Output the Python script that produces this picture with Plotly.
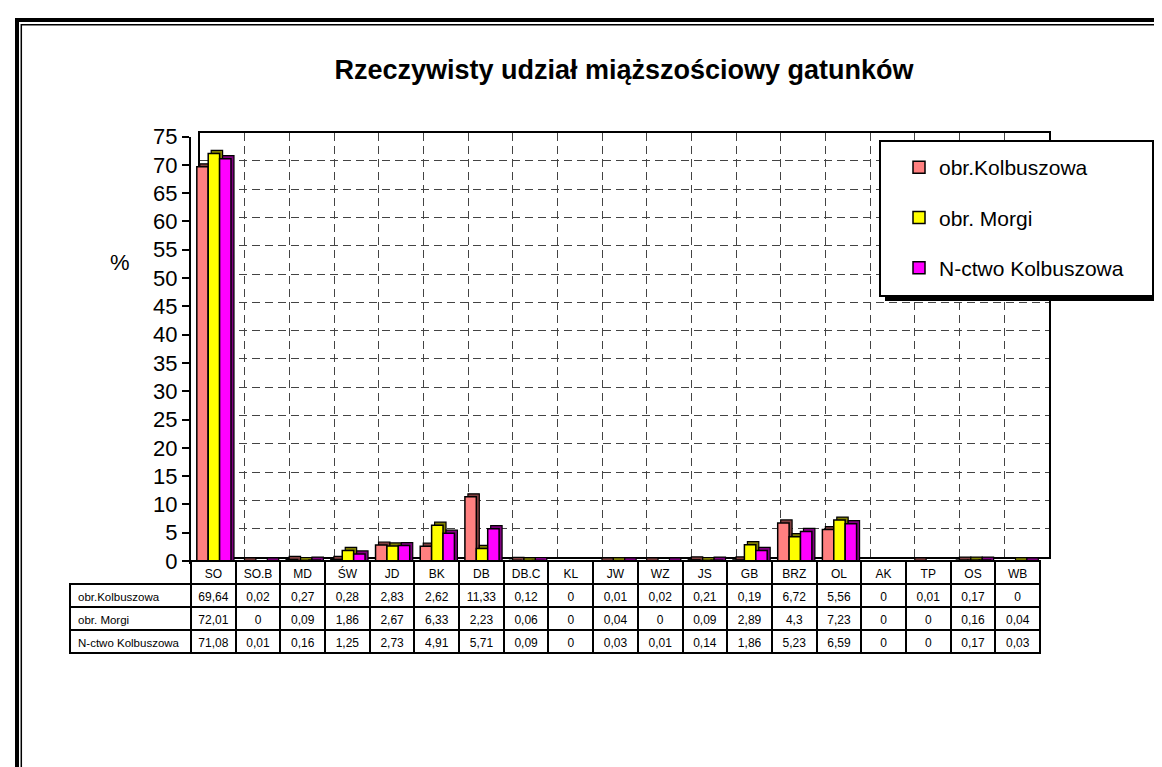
import plotly.graph_objects as go

W, H = 1162, 767


def fx(p):
    return p / W


def fy(p):
    return 1 - p / H


categories = ["SO", "SO.B", "MD", "ŚW", "JD", "BK", "DB", "DB.C", "KL", "JW",
              "WZ", "JS", "GB", "BRZ", "OL", "AK", "TP", "OS", "WB"]
kolbuszowa = [69.64, 0.02, 0.27, 0.28, 2.83, 2.62, 11.33, 0.12, 0, 0.01,
              0.02, 0.21, 0.19, 6.72, 5.56, 0, 0.01, 0.17, 0]
morgi = [72.01, 0, 0.09, 1.86, 2.67, 6.33, 2.23, 0.06, 0, 0.04,
         0, 0.09, 2.89, 4.3, 7.23, 0, 0, 0.16, 0.04]
nadlesnictwo = [71.08, 0.01, 0.16, 1.25, 2.73, 4.91, 5.71, 0.09, 0, 0.03,
                0.01, 0.14, 1.86, 5.23, 6.59, 0, 0, 0.17, 0.03]
series_names = ["obr.Kolbuszowa", "obr. Morgi", "N-ctwo Kolbuszowa"]
y_ticks = list(range(0, 80, 5))

FONT = "Liberation Sans, Arial, sans-serif"

# front face colour, darker side colour, bar left offset (category units)
styles = [
    ("#FF8080", "#804040", -0.37),
    ("#FFFF00", "#808000", -0.115),
    ("#FF00FF", "#800080", 0.14),
]
bar_w = 0.255
dx = 3 / 44.7        # 3d depth of a bar, x units
dy = 3 * 75 / 424.5  # 3d depth of a bar, y units


def fmt(v):
    return f"{v:g}".replace(".", ",")


x_idx = list(range(len(categories)))
n = len(categories)
fig = go.Figure()

# invisible trace so the back wall (x/y) gets drawn
fig.add_trace(go.Scatter(x=[0], y=[0], mode="markers", marker=dict(opacity=0),
                         showlegend=False, hoverinfo="skip", xaxis="x", yaxis="y"))

for name, vals, (col, dark, off) in zip(series_names, [kolbuszowa, morgi, nadlesnictwo], styles):
    # side/top face drawn behind the front face
    fig.add_trace(go.Bar(
        x=x_idx, y=[v + dy if v > 0 else 0 for v in vals],
        offset=off + dx, width=bar_w,
        marker=dict(color=dark, line=dict(color="black", width=1.2)),
        xaxis="x2", yaxis="y2", showlegend=False, hoverinfo="skip",
    ))
    fig.add_trace(go.Bar(
        x=x_idx, y=vals, name=name, legendgroup=name,
        offset=off, width=bar_w,
        marker=dict(color=col, line=dict(color="black", width=1.5)),
        xaxis="x2", yaxis="y2",
    ))

# data table under the chart (non-breaking spaces keep the row labels on one line)
row_labels = [s.replace(" ", "\u00a0") for s in series_names]
fig.add_trace(go.Table(
    domain=dict(x=[fx(62), fx(1032)], y=[fy(650), fy(553)]),
    columnwidth=[121] + [44.7] * n,
    header=dict(
        values=[""] + categories, height=23,
        fill_color=["rgba(0,0,0,0)"] + ["white"] * n,
        line=dict(color=["rgba(0,0,0,0)"] + ["black"] * n, width=2),
        font=dict(family=FONT, size=12, color="black"), align="center",
    ),
    cells=dict(
        values=[row_labels] + [[fmt(kolbuszowa[i]), fmt(morgi[i]), fmt(nadlesnictwo[i])]
                               for i in x_idx],
        height=23, fill_color="white",
        line=dict(color="black", width=2),
        font=dict(family=FONT, size=[11.5] + [12] * n, color="black"),
        align=["left"] + ["center"] * n,
    ),
))

grid_dash = "8px,5px"
fig.update_layout(
    width=W, height=H,
    margin=dict(l=0, r=0, t=0, b=0, autoexpand=False),
    paper_bgcolor="white", plot_bgcolor="rgba(0,0,0,0)",
    font=dict(family=FONT, color="black"),
    barmode="overlay",
    title=dict(text="Rzeczywisty udział miąższościowy gatunków",
               x=fx(616), xanchor="center", y=fy(62), yanchor="middle",
               font=dict(size=27, weight="bold", color="black")),
    # back wall with dashed grid
    xaxis=dict(domain=[fx(192), fx(1041)], anchor="y", range=[-0.5, 18.5],
               tickvals=[i + 0.5 for i in range(n - 1)],
               showticklabels=False, ticks="", showgrid=True,
               gridcolor="#444", griddash=grid_dash, gridwidth=1,
               showline=True, mirror=True, linecolor="black", linewidth=2,
               zeroline=False, fixedrange=True),
    yaxis=dict(domain=[fy(549), fy(124.5)], anchor="x", range=[0, 75],
               tickvals=y_ticks, showticklabels=False, ticks="",
               showgrid=True, gridcolor="#444", griddash=grid_dash, gridwidth=1,
               showline=True, mirror=True, linecolor="black", linewidth=2,
               zeroline=False, fixedrange=True),
    # front axes carrying the bars
    xaxis2=dict(domain=[fx(183), fx(1032)], anchor="y2", range=[-0.5, 18.5],
                showticklabels=False, ticks="", showgrid=False,
                showline=True, linecolor="black", linewidth=3,
                zeroline=False, fixedrange=True),
    yaxis2=dict(domain=[fy(553), fy(128.5)], anchor="x2", range=[0, 75],
                tickvals=y_ticks, ticks="outside", ticklen=7, tickwidth=2,
                tickcolor="black", showline=True, linecolor="black", linewidth=2,
                showgrid=False, zeroline=False,
                tickfont=dict(size=22, color="black"), fixedrange=True),
    legend=dict(x=fx(891), y=fy(139), xanchor="left", yanchor="top",
                bgcolor="rgba(0,0,0,0)", borderwidth=0,
                font=dict(size=21, color="black"),
                traceorder="grouped", tracegroupgap=20),
    annotations=[dict(text="%", x=fx(100), y=fy(240), xref="paper", yref="paper",
                      showarrow=False, font=dict(size=22, color="black"))],
    shapes=[
        # page frame
        dict(type="rect", xref="paper", yref="paper", x0=fx(9), y0=fy(12),
             x1=1.2, y1=-0.2, line=dict(color="black", width=4)),
        dict(type="rect", xref="paper", yref="paper", x0=fx(13.3), y0=fy(16.8),
             x1=1.2, y1=-0.2, line=dict(color="black", width=1.5)),
        # legend box with shadow
        dict(type="rect", xref="paper", yref="paper", x0=fx(877), y0=fy(138),
             x1=fx(1150), y1=fy(293), fillcolor="black", line=dict(width=0),
             layer="above"),
        dict(type="rect", xref="paper", yref="paper", x0=fx(872), y0=fy(133),
             x1=fx(1145), y1=fy(288), fillcolor="white",
             line=dict(color="black", width=2), layer="above"),
    ],
)

fig.write_html("out.html")
